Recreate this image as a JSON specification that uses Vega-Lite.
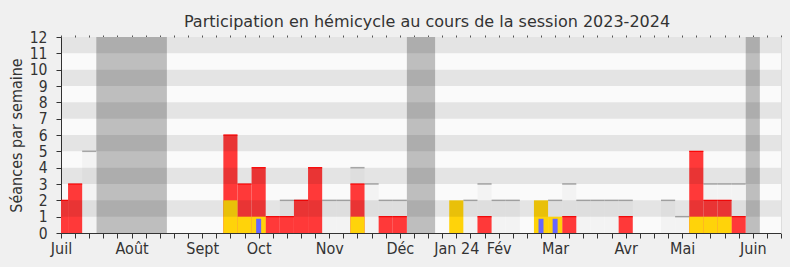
{
  "$schema": "https://vega.github.io/schema/vega-lite/v6.json",
  "width": 720,
  "height": 196,
  "autosize": {"type": "none"},
  "padding": {"left": 61, "right": 9, "top": 37, "bottom": 34},
  "background": "#f0f0f0",
  "title": {
    "text": "Participation en hémicycle au cours de la session 2023-2024",
    "font": "DejaVu Sans",
    "fontSize": 16,
    "fontWeight": "normal",
    "color": "#333333",
    "anchor": "middle",
    "dx": 6,
    "dy": 23,
    "baseline": "alphabetic",
    "offset": 10
  },
  "config": {
    "view": {"fill": "#fafafa", "stroke": null},
    "axis": {
      "labelFont": "DejaVu Sans Condensed",
      "labelColor": "#333333",
      "titleFont": "DejaVu Sans Condensed",
      "titleColor": "#333333",
      "titleFontWeight": "normal",
      "domainColor": "#333333",
      "tickColor": "#333333",
      "grid": false
    }
  },
  "datasets": {
    "semaines": [
      {"semaine": 0, "presence": 2},
      {"semaine": 1, "presence": 3},
      {"semaine": 2, "mediane": 5},
      {"semaine": 12, "presence": 6, "interventions": 2},
      {"semaine": 13, "presence": 3, "interventions": 1},
      {"semaine": 14, "presence": 4, "interventions": 1, "questions": 0.87},
      {"semaine": 15, "presence": 1},
      {"semaine": 16, "presence": 1, "mediane": 2},
      {"semaine": 17, "presence": 2, "mediane": 2},
      {"semaine": 18, "presence": 4, "mediane": 2},
      {"semaine": 19, "mediane": 2},
      {"semaine": 20, "mediane": 2},
      {"semaine": 21, "presence": 3, "interventions": 1, "mediane": 4},
      {"semaine": 22, "mediane": 3},
      {"semaine": 23, "presence": 1, "mediane": 2},
      {"semaine": 24, "presence": 1, "mediane": 2},
      {"semaine": 28, "interventions": 2},
      {"semaine": 29, "mediane": 2},
      {"semaine": 30, "presence": 1, "mediane": 3},
      {"semaine": 31, "mediane": 2},
      {"semaine": 32, "mediane": 2},
      {"semaine": 34, "interventions": 2, "questions": 0.87},
      {"semaine": 35, "interventions": 1, "questions": 0.87, "mediane": 2},
      {"semaine": 36, "presence": 1, "mediane": 3},
      {"semaine": 37, "mediane": 2},
      {"semaine": 38, "mediane": 2},
      {"semaine": 39, "mediane": 2},
      {"semaine": 40, "presence": 1, "mediane": 2},
      {"semaine": 43, "mediane": 2},
      {"semaine": 44, "mediane": 1},
      {"semaine": 45, "presence": 5, "interventions": 1},
      {"semaine": 46, "presence": 2, "interventions": 1, "mediane": 3},
      {"semaine": 47, "presence": 2, "interventions": 1, "mediane": 3},
      {"semaine": 48, "presence": 1, "mediane": 3}
    ],
    "vacances": [
      {"debut": 2.5, "fin": 7.5},
      {"debut": 24.5, "fin": 26.5},
      {"debut": 48.5, "fin": 49.5}
    ],
    "bandes": [
      {"bas": 1, "haut": 2},
      {"bas": 3, "haut": 4},
      {"bas": 5, "haut": 6},
      {"bas": 7, "haut": 8},
      {"bas": 9, "haut": 10},
      {"bas": 11, "haut": 12}
    ]
  },
  "resolve": {"scale": {"x": "shared", "y": "shared"}},
  "layer": [
    {
      "data": {"name": "vacances"},
      "mark": {"type": "rect", "fill": "#bebebe", "clip": true},
      "encoding": {
        "x": {"field": "debut", "type": "quantitative", "scale": {"domain": [0, 51], "nice": false, "zero": false, "padding": 0}, "axis": null},
        "x2": {"field": "fin"}
      }
    },
    {
      "data": {"name": "semaines"},
      "mark": {"type": "bar", "fill": "#f3f3f3", "width": 14.12, "clip": true},
      "encoding": {
        "x": {"field": "semaine", "type": "quantitative",
          "axis": {"orient": "top", "values": [0,1,2,3,4,5,6,7,8,9,10,11,12,13,14,15,16,17,18,19,20,21,22,23,24,25,26,27,28,29,30,31,32,33,34,35,36,37,38,39,40,41,42,43,44,45,46,47,48,49,50,51], "labels": false, "domain": false, "tickSize": 2, "tickColor": "#555555", "title": null}},
        "y": {"field": "mediane", "type": "quantitative", "scale": {"domain": [0, 12], "nice": false, "padding": 0},
          "axis": {"orient": "right", "labels": false, "ticks": false, "domainColor": "#dddddd", "title": null}}
      }
    },
    {
      "data": {"name": "semaines"},
      "mark": {"type": "tick", "orient": "horizontal", "color": "#aaaaaa", "size": 14.12, "thickness": 1.5, "opacity": 1, "clip": true},
      "encoding": {
        "x": {"field": "semaine", "type": "quantitative", "axis": null},
        "y": {"field": "mediane", "type": "quantitative", "axis": null}
      }
    },
    {
      "data": {"name": "semaines"},
      "mark": {"type": "bar", "fill": "#ff3939", "width": 14.12, "clip": true},
      "encoding": {
        "x": {"field": "semaine", "type": "quantitative",
          "axis": {"orient": "bottom", "values": [0,1,2,3,4,5,6,7,8,9,10,11,12,13,14,15,16,17,18,19,20,21,22,23,24,25,26,27,28,29,30,31,32,33,34,35,36,37,38,39,40,41,42,43,44,45,46,47,48,49,50,51],
            "labelExpr": "datum.value == 0 ? 'Juil' : datum.value == 5 ? 'Août' : datum.value == 10 ? 'Sept' : datum.value == 14 ? 'Oct' : datum.value == 19 ? 'Nov' : datum.value == 24 ? 'Déc' : datum.value == 28 ? 'Jan 24' : datum.value == 31 ? 'Fév' : datum.value == 35 ? 'Mar' : datum.value == 40 ? 'Avr' : datum.value == 44 ? 'Mai' : datum.value == 49 ? 'Juin' : ''",
            "labelFontSize": 16, "labelPadding": 2, "tickSize": 5, "labelOverlap": false, "labelFlush": false, "title": null}},
        "y": {"field": "presence", "type": "quantitative",
          "axis": {"orient": "left", "values": [0,1,2,3,4,5,6,7,8,9,10,11,12], "labelFontSize": 15.5, "labelOverlap": false, "tickSize": 5, "labelPadding": 9, "labelBaseline": "middle", "title": "Séances par semaine", "titleFontSize": 16, "titlePadding": 5}}
      }
    },
    {
      "data": {"name": "semaines"},
      "mark": {"type": "tick", "orient": "horizontal", "color": "#ff0000", "size": 14.12, "thickness": 1.2, "opacity": 1, "clip": true},
      "encoding": {
        "x": {"field": "semaine", "type": "quantitative", "axis": null},
        "y": {"field": "presence", "type": "quantitative", "axis": null}
      }
    },
    {
      "data": {"name": "semaines"},
      "mark": {"type": "bar", "fill": "#ffd30a", "width": 14.12, "clip": true},
      "encoding": {
        "x": {"field": "semaine", "type": "quantitative", "axis": null},
        "y": {"field": "interventions", "type": "quantitative", "axis": null}
      }
    },
    {
      "data": {"name": "semaines"},
      "mark": {"type": "bar", "fill": "#6666ff", "width": 5, "clip": true},
      "encoding": {
        "x": {"field": "semaine", "type": "quantitative", "axis": null},
        "y": {"field": "questions", "type": "quantitative", "axis": null}
      }
    },
    {
      "data": {"name": "bandes"},
      "mark": {"type": "rect", "fill": "#000000", "opacity": 0.085},
      "encoding": {
        "y": {"field": "bas", "type": "quantitative", "axis": null},
        "y2": {"field": "haut"}
      }
    }
  ]
}
